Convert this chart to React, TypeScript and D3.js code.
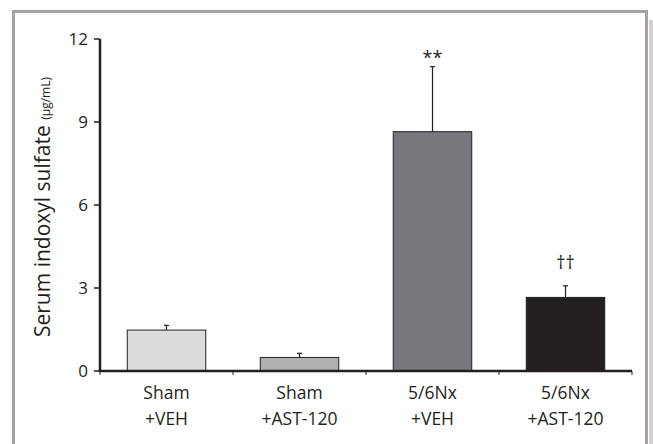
import React from "react";
import * as d3 from "d3";

const categories = ["Sham|+VEH", "Sham|+AST-120", "5/6Nx|+VEH", "5/6Nx|+AST-120"];
const means = [1.48, 0.49, 8.65, 2.66];
const errors = [0.17, 0.15, 2.35, 0.42];
const annotations = ["", "", "**", "††"];
const barColors = ["#dcdcdd", "#b0b0b2", "#77787b", "#231f20"];
const yTicks = [0, 3, 6, 9, 12];

const W = 653;
const H = 444;
const left = 100;
const right = 632;
const top = 39;
const bottom = 371;

export default function App() {
  const x = d3.scaleBand<string>().domain(categories).range([left, right]).paddingInner(0.41).paddingOuter(0.205);
  const y = d3.scaleLinear().domain([0, 12]).range([bottom, top]);
  const bw = x.bandwidth();
  const font = "'Open Sans', 'Noto Sans', sans-serif";
  const boundaries = [left, ...categories.map((c) => (x(c) as number) + bw + x.step() * 0.205)];
  return (
    <svg width={W} height={H} style={{ position: "absolute", left: 0, top: 0, background: "#fff" }} fontFamily={font}>
      {/* frame */}
      <rect x={649} y={20} width={4} height={H} fill="#d4d0cf" />
      <path d={`M13.5,${H} V11.5 H646.5 V${H}`} fill="none" stroke="#a3a3a3" strokeWidth={3} />
      {/* bars */}
      {categories.map((c, i) => {
        const bx = x(c) as number;
        const cx = bx + bw / 2;
        const errTop = y(means[i] + errors[i]);
        return (
          <g key={c}>
            <line x1={cx} x2={cx} y1={y(means[i])} y2={errTop} stroke="#231f20" strokeWidth={1.2} />
            <line x1={cx - 2.5} x2={cx + 2.5} y1={errTop} y2={errTop} stroke="#231f20" strokeWidth={1.2} />
            <rect x={bx} y={y(means[i])} width={bw} height={bottom - y(means[i])} fill={barColors[i]} stroke="#231f20" strokeWidth={1} />
            {annotations[i] && (
              <text
                x={cx}
                y={errTop - (annotations[i] === "**" ? 3 : 17)}
                textAnchor="middle"
                fontSize={18}
                fill="#231f20"
              >
                {annotations[i]}
              </text>
            )}
            {c.split("|").map((t, k) => (
              <text key={k} x={cx} y={398.5 + k * 26} textAnchor="middle" fontSize={17.5} fill="#231f20">
                {t}
              </text>
            ))}
          </g>
        );
      })}
      {/* y axis */}
      <line x1={left} x2={left} y1={top} y2={bottom + 1} stroke="#231f20" strokeWidth={2.5} />
      {yTicks.map((t) => (
        <g key={t}>
          <line x1={left - 6} x2={left} y1={y(t)} y2={y(t)} stroke="#231f20" strokeWidth={1.5} />
          <text x={left - 12} y={y(t)} dy="0.36em" textAnchor="end" fontSize={17} fill="#231f20">
            {t}
          </text>
        </g>
      ))}
      {/* x axis */}
      <line x1={left - 1} x2={right} y1={bottom} y2={bottom} stroke="#231f20" strokeWidth={2.5} />
      {boundaries.map((b, i) => (
        <line key={i} x1={b} x2={b} y1={bottom} y2={bottom + 4} stroke="#231f20" strokeWidth={1} />
      ))}
      {/* y title */}
      <text transform={`translate(50,${(top + bottom) / 2 + 2}) rotate(-90)`} textAnchor="middle" fill="#231f20">
        <tspan fontSize={21}>Serum indoxyl sulfate </tspan>
        <tspan fontSize={12}>(μg/mL)</tspan>
      </text>
    </svg>
  );
}
